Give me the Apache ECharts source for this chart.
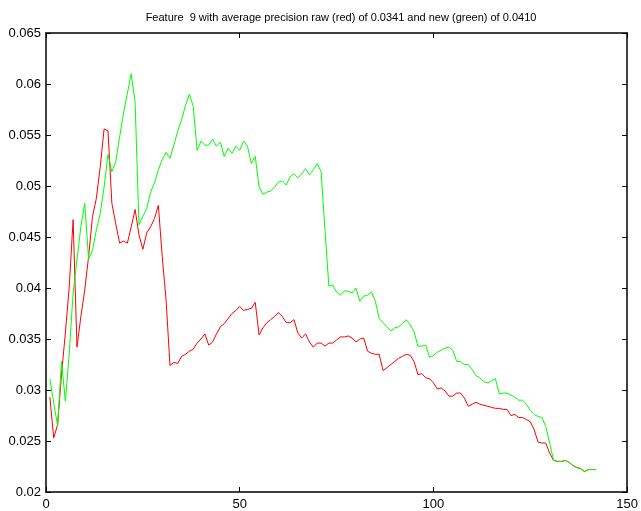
<!DOCTYPE html>
<html>
<head>
<meta charset="utf-8">
<script src="https://cdn.jsdelivr.net/npm/echarts@6/dist/echarts.min.js"></script>
<style>
  html, body { margin: 0; padding: 0; background: #fff; }
  #chart { width: 641px; height: 511px; }
</style>
</head>
<body>
<div id="chart"></div>
<script>
const titleText = 'Feature  9 with average precision raw (red) of 0.0341 and new (green) of 0.0410';

// x positions are 1..N, one value per rank
const redValues = [
  0.0293, 0.0253, 0.0266, 0.0315, 0.0356, 0.0401, 0.0467, 0.0342, 0.0372, 0.0398,
  0.0431, 0.0470, 0.0488, 0.0519, 0.0556, 0.0554, 0.0483, 0.0463, 0.0444, 0.0446,
  0.0444, 0.0460, 0.0477, 0.0452, 0.0438, 0.0454, 0.0460, 0.0468, 0.0481, 0.0431,
  0.0388, 0.0324, 0.0327, 0.0326, 0.0333, 0.0335, 0.0338, 0.0340, 0.0346, 0.0350,
  0.0355, 0.0344, 0.0347, 0.0355, 0.0362, 0.0365, 0.0370, 0.0375, 0.0378, 0.0382,
  0.0378, 0.0379, 0.0380, 0.0386, 0.0354, 0.0361, 0.0366, 0.0369, 0.0372, 0.0376,
  0.0372, 0.0366, 0.0366, 0.0369, 0.0356, 0.0351, 0.0355, 0.0347, 0.0342, 0.0346,
  0.0346, 0.0343, 0.0346, 0.0346, 0.0349, 0.0352, 0.0352, 0.0353, 0.0351, 0.0347,
  0.0350, 0.0351, 0.0338, 0.0336, 0.0335, 0.0335, 0.0319, 0.0322, 0.0325, 0.0328,
  0.0331, 0.0333, 0.0335, 0.0334, 0.0328, 0.0315, 0.0316, 0.0312, 0.0311, 0.0307,
  0.0301, 0.0302, 0.0299, 0.0294, 0.0294, 0.0297, 0.0297, 0.0292, 0.0284, 0.0286,
  0.0288, 0.0286, 0.0285, 0.0284, 0.0283, 0.0282, 0.0282, 0.0281, 0.0281, 0.0275,
  0.0276, 0.0273, 0.0273, 0.0271, 0.0269, 0.0261, 0.0249, 0.0248, 0.0248, 0.0238,
  0.0231, 0.0230, 0.0230, 0.0231, 0.0229, 0.0226, 0.0224, 0.0223, 0.0220, 0.0222,
  0.0222, 0.0222
];

const greenValues = [
  0.0311, 0.0287, 0.0265, 0.0328, 0.0289, 0.0336, 0.0395, 0.0428, 0.0460, 0.0483,
  0.0428, 0.0437, 0.0457, 0.0473, 0.0499, 0.0531, 0.0514, 0.0524, 0.0548, 0.0571,
  0.0591, 0.0610, 0.0582, 0.0462, 0.0470, 0.0478, 0.0494, 0.0503, 0.0516, 0.0526,
  0.0533, 0.0527, 0.0540, 0.0554, 0.0565, 0.0579, 0.0590, 0.0578, 0.0535, 0.0544,
  0.0540, 0.0540, 0.0546, 0.0539, 0.0543, 0.0529, 0.0537, 0.0532, 0.0539, 0.0535,
  0.0544, 0.0539, 0.0522, 0.0529, 0.0499, 0.0492, 0.0494, 0.0495, 0.0499, 0.0504,
  0.0505, 0.0501, 0.0509, 0.0512, 0.0508, 0.0512, 0.0517, 0.0511, 0.0516, 0.0522,
  0.0514, 0.0457, 0.0402, 0.0403, 0.0396, 0.0393, 0.0397, 0.0397, 0.0395, 0.0400,
  0.0387, 0.0392, 0.0393, 0.0396, 0.0387, 0.0370, 0.0366, 0.0362, 0.0358, 0.0361,
  0.0362, 0.0365, 0.0369, 0.0364, 0.0357, 0.0343, 0.0343, 0.0344, 0.0332, 0.0334,
  0.0337, 0.0339, 0.0341, 0.0342, 0.0339, 0.0328, 0.0328, 0.0325, 0.0325, 0.0320,
  0.0314, 0.0312, 0.0308, 0.0307, 0.0309, 0.0311, 0.0296, 0.0297, 0.0297, 0.0295,
  0.0293, 0.0290, 0.0290, 0.0286, 0.0280, 0.0276, 0.0274, 0.0273, 0.0264, 0.0248,
  0.0231, 0.0230, 0.0230, 0.0231, 0.0229, 0.0226, 0.0224, 0.0223, 0.0220, 0.0222,
  0.0222, 0.0222
];

const xTicks = { min: 0, max: 150, step: 50 };
const yTicks = { min: 0.02, max: 0.065, step: 0.005 };

const toPairs = vals => vals.map((v, i) => [i + 1, v]);

const font = 'Liberation Sans, Arial, Helvetica, sans-serif';
const black = '#000';

function axisBase(extra) {
  return Object.assign({
    type: 'value',
    axisLine: { show: true, onZero: false, lineStyle: { color: black, width: 1.5 } },
    axisTick: { show: true, inside: true, length: 5, lineStyle: { color: black, width: 1 } },
    splitLine: { show: false },
    axisLabel: { color: black, fontSize: 13, fontFamily: font }
  }, extra);
}

const chart = echarts.init(document.getElementById('chart'));
chart.setOption({
  animation: false,
  backgroundColor: '#fff',
  title: {
    text: titleText,
    left: 336,
    textAlign: 'center',
    top: 7,
    textStyle: { fontSize: 11, fontWeight: 'normal', color: black, fontFamily: font }
  },
  grid: { left: 46, right: 11, top: 33, bottom: 19 },
  xAxis: [
    axisBase({ min: xTicks.min, max: xTicks.max, interval: xTicks.step, position: 'bottom',
      axisLabel: { color: black, fontSize: 13, fontFamily: font, margin: 6 } }),
    axisBase({ min: xTicks.min, max: xTicks.max, interval: xTicks.step, position: 'top',
      axisLabel: { show: false } })
  ],
  yAxis: [
    axisBase({ min: yTicks.min, max: yTicks.max, interval: yTicks.step, position: 'left',
      axisLabel: { color: black, fontSize: 13, fontFamily: font, margin: 5,
        formatter: v => String(+v.toFixed(3)) } }),
    axisBase({ min: yTicks.min, max: yTicks.max, interval: yTicks.step, position: 'right',
      axisLabel: { show: false } })
  ],
  series: [
    {
      name: 'raw', type: 'line', data: toPairs(redValues), showSymbol: false,
      lineStyle: { color: '#ff0000', width: 1 }, itemStyle: { color: '#ff0000' }
    },
    {
      name: 'new', type: 'line', data: toPairs(greenValues), showSymbol: false,
      lineStyle: { color: '#00ff00', width: 1 }, itemStyle: { color: '#00ff00' }
    }
  ]
});
</script>
</body>
</html>
